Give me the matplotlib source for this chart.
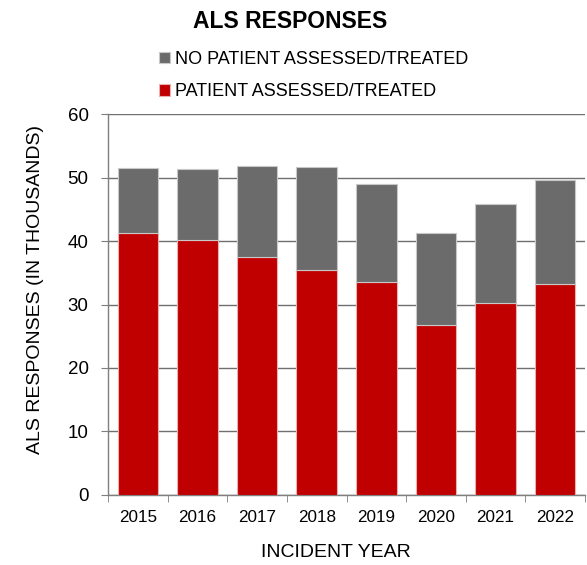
import numpy as np
from matplotlib import pyplot as plt

plt.rcParams['font.family'] = ['Liberation Sans', 'DejaVu Sans']

years = ['2015', '2016', '2017', '2018', '2019', '2020', '2021', '2022']
assessed = [41.2, 40.1, 37.5, 35.5, 33.6, 26.7, 30.3, 33.3]
totals = [51.5, 51.4, 51.9, 51.7, 49.0, 41.2, 45.8, 49.6]
not_assessed = [t - a for t, a in zip(totals, assessed)]

RED = '#c00000'
GRAY = '#6b6b6b'

fig = plt.figure(figsize=(5.87, 5.65), dpi=100)
ax = fig.add_axes([0.184, 0.1244, 0.8126, 0.6733])

x = np.arange(len(years))
w = 0.68
b1 = ax.bar(x, assessed, width=w, color=RED, edgecolor='#e8b0b0', linewidth=0.8, zorder=3,
            label='PATIENT ASSESSED/TREATED')
b2 = ax.bar(x, not_assessed, width=w, bottom=assessed, color=GRAY, edgecolor='#c8c8c8',
            linewidth=0.8, zorder=3, label='NO PATIENT ASSESSED/TREATED')

ax.set_xlim(-0.5, len(years) - 0.5)
ax.set_ylim(0, 60)
ax.set_yticks(range(0, 61, 10))
ax.set_xticks(x)
ax.set_xticklabels(years)
ax.set_xticks(np.arange(-0.5, len(years)), minor=True)
ax.tick_params(axis='x', which='major', length=0, labelsize=12.3, pad=11)
ax.tick_params(axis='x', which='minor', length=5, color='#7f7f7f', direction='out')
ax.tick_params(axis='y', length=5, color='#7f7f7f', labelsize=13.5, pad=9)

ax.grid(axis='y', color='#6f6f6f', linewidth=1, zorder=0)
for s in ['top', 'right']:
    ax.spines[s].set_visible(False)
for s in ['left', 'bottom']:
    ax.spines[s].set_color('#7f7f7f')
    ax.spines[s].set_linewidth(1)

# axis titles placed in figure coords to match the original layout
fig.text(0.572, 0.023, 'INCIDENT YEAR', ha='center', va='center', fontsize=14)
fig.text(0.06, 0.487, 'ALS RESPONSES (IN THOUSANDS)', ha='center', va='center',
         rotation=90, fontsize=14)

fig.text(0.494, 0.962, 'ALS RESPONSES', ha='center', va='center', fontsize=16.5, fontweight='bold')
fig.legend(handles=[b2, b1], loc='center left', bbox_to_anchor=(0.258, 0.866), frameon=False,
           fontsize=13, handlelength=0.6, handleheight=0.6, handletextpad=0.3,
           labelspacing=0.85, borderaxespad=0)

plt.savefig('out.png', dpi=100)
